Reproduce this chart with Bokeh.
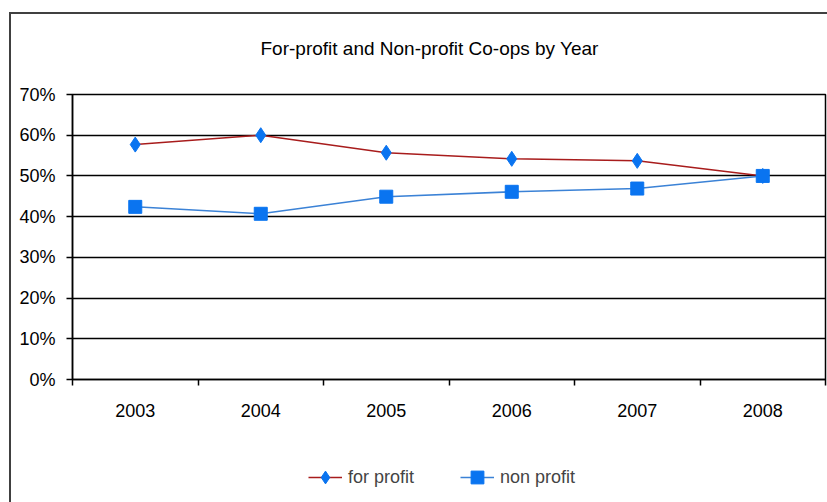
from bokeh.plotting import figure
from bokeh.layouts import column
from bokeh.models import (Range1d, FixedTicker, Legend, LegendItem,
                          NumeralTickFormatter)
from bokeh.embed import file_html
from bokeh.resources import INLINE

years = ["2003", "2004", "2005", "2006", "2007", "2008"]
for_profit = [0.577, 0.600, 0.557, 0.542, 0.537, 0.500]
non_profit = [0.424, 0.407, 0.449, 0.461, 0.469, 0.500]
y_ticks = [0.0, 0.1, 0.2, 0.3, 0.4, 0.5, 0.6, 0.7]
series_names = ["for profit", "non profit"]

FONT = "Liberation Sans"
RED = "#a81c1c"
LBLUE = "#3b82d6"
MBLUE = "#0a74f0"

xs = [i + 0.5 for i in range(len(years))]

p = figure(width=827, height=445, output_backend="svg", toolbar_location=None,
           x_range=Range1d(0, len(years)), y_range=Range1d(0, 0.7),
           min_border_left=72, min_border_right=2, min_border_top=94,
           min_border_bottom=66, background_fill_color="white",
           border_fill_color=None)
p.styles = {"box-shadow": "inset 9px 12px 0 0 white, inset 11px 14px 0 0 #404040",
            "background-color": "white"}

p.title.text = "For-profit and Non-profit Co-ops by Year"
p.title.text_font = FONT
p.title.text_font_size = "19px"
p.title.text_font_style = "normal"
p.title.text_color = "black"
p.title.align = "left"
p.title.offset = 188
p.title.standoff = 71

p.outline_line_color = "black"
p.outline_line_width = 1.5

# y axis
p.yaxis.ticker = FixedTicker(ticks=y_ticks)
p.yaxis.formatter = NumeralTickFormatter(format="0%")
p.yaxis.major_label_text_font = FONT
p.yaxis.major_label_text_font_size = "18px"
p.yaxis.major_label_text_color = "black"
p.yaxis.axis_line_color = "black"
p.yaxis.axis_line_width = 1.5
p.yaxis.major_tick_line_color = "black"
p.yaxis.major_tick_line_width = 1.5
p.yaxis.major_tick_out = 6
p.yaxis.major_tick_in = 0
p.yaxis.minor_tick_line_color = None
p.yaxis.major_label_standoff = 11

# x axis: labels at category centres, ticks at category boundaries
p.xaxis.ticker = FixedTicker(ticks=xs, minor_ticks=list(range(len(years) + 1)))
p.xaxis.major_label_overrides = {x: y for x, y in zip(xs, years)}
p.xaxis.major_label_text_font = FONT
p.xaxis.major_label_text_font_size = "18px"
p.xaxis.major_label_text_color = "black"
p.xaxis.axis_line_color = "black"
p.xaxis.axis_line_width = 1.5
p.xaxis.major_tick_out = 0
p.xaxis.major_tick_in = 0
p.xaxis.minor_tick_line_color = "black"
p.xaxis.minor_tick_line_width = 1.5
p.xaxis.minor_tick_out = 6
p.xaxis.minor_tick_in = 0
p.xaxis.major_label_standoff = 18

p.xgrid.grid_line_color = None
p.ygrid.grid_line_color = "black"
p.ygrid.grid_line_width = 1.5
p.ygrid.grid_line_alpha = 1.0

p.line(xs, for_profit, line_color=RED, line_width=1.5)
p.scatter(xs, for_profit, marker="diamond", size=15, fill_color=MBLUE,
          line_color=MBLUE)
p.line(xs, non_profit, line_color=LBLUE, line_width=1.5)
p.scatter(xs, non_profit, marker="square", size=13, fill_color=MBLUE,
          line_color=MBLUE)

# legend strip below the chart (its own canvas so it is not clipped);
# its series renderers sit outside this strip's visible range, only the
# legend entries are shown
lg = figure(width=827, height=57, output_backend="svg", toolbar_location=None,
            x_range=Range1d(100, 101), y_range=Range1d(100, 101),
            x_axis_location=None, y_axis_location=None, min_border=0,
            outline_line_color=None, background_fill_color="white",
            border_fill_color=None)
lg.styles = {"box-shadow": "inset 9px 0 0 0 white, inset 11px 0 0 0 #404040",
             "background-color": "white"}
lg.grid.visible = False
k1 = lg.line(xs, for_profit, line_color=RED, line_width=1.5)
k1b = lg.scatter(xs, for_profit, marker="diamond", size=15, fill_color=MBLUE,
                 line_color=MBLUE)
k2 = lg.line(xs, non_profit, line_color=LBLUE, line_width=1.5)
k2b = lg.scatter(xs, non_profit, marker="square", size=13, fill_color=MBLUE,
                 line_color=MBLUE)
legend = Legend(items=[LegendItem(label=series_names[0], renderers=[k1, k1b]),
                       LegendItem(label=series_names[1], renderers=[k2, k2b])],
                orientation="horizontal", location=(236, 9),
                label_text_font=FONT, label_text_font_size="18px",
                glyph_width=34, glyph_height=32, label_standoff=6, spacing=46,
                padding=0, margin=0, border_line_color=None,
                background_fill_alpha=0)
lg.add_layout(legend, "center")

layout = column(p, lg, spacing=0)

open("out.html", "w").write(file_html(layout, INLINE))
